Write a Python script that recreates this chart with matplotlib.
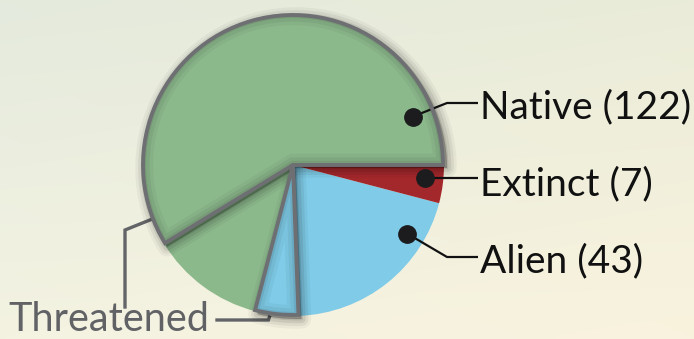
import numpy as np
import matplotlib.pyplot as plt
from matplotlib.patches import Wedge

plt.rcParams['font.family'] = ['Lato', 'DejaVu Sans']

# species counts
labels = ['Native', 'Extinct', 'Alien']
counts = [122, 7, 43]
threatened_native = 21
threatened_alien = 8

# slices, counter-clockwise from 3 o'clock:
# native (safe), native (threatened), alien (threatened), alien (rest), extinct
slice_sizes = [counts[0] - threatened_native, threatened_native,
               threatened_alien, counts[2] - threatened_alien, counts[1]]
slice_colors = ['#8cb98c', '#8cb98c', '#7fcbe8', '#7fcbe8', '#a3282b']
outlined = [True, False, True, False, False]
explode = [0, 0, 0.02, 0, 0]

W, H = 694, 339
cx, cy, R = 293, 174, 151
outline_col = '#6e6f72'

fig = plt.figure(figsize=(W / 100, H / 100), dpi=100)
ax = fig.add_axes([0, 0, 1, 1])

# soft background gradient
tl = np.array([228, 234, 221]) / 255
tr = np.array([234, 236, 217]) / 255
bl = np.array([244, 243, 226]) / 255
br = np.array([249, 243, 222]) / 255
yy, xx = np.mgrid[0:1:60j, 0:1:120j]
bg = ((1 - yy)[..., None] * ((1 - xx)[..., None] * tl + xx[..., None] * tr)
      + yy[..., None] * ((1 - xx)[..., None] * bl + xx[..., None] * br))
ax.imshow(bg, extent=(0, W, 0, H), origin='upper', aspect='auto',
          interpolation='bicubic', zorder=0)

wedges, _ = ax.pie(slice_sizes, colors=slice_colors, startangle=0,
                   counterclock=True, center=(cx, cy), radius=R,
                   explode=explode, wedgeprops=dict(linewidth=0))
for w in wedges:
    w.set_zorder(1)

for w, has_edge in zip(wedges, outlined):
    if not has_edge:
        continue
    x0, y0 = w.center
    # blurred drop shadow
    for lw, a in [(14, 0.04), (10, 0.06), (6, 0.08), (2, 0.1)]:
        ax.add_patch(Wedge((x0 + 3, y0 - 3), w.r, w.theta1, w.theta2,
                           facecolor=(0, 0, 0, a), edgecolor=(0, 0, 0, a),
                           linewidth=lw, joinstyle='round', zorder=2))
    w.set_zorder(3)
    # inner shading along the edge
    for lw, a in [(16, 0.04), (11, 0.05), (6, 0.07)]:
        s = Wedge((x0, y0), w.r, w.theta1, w.theta2, facecolor='none',
                  edgecolor=(0, 0, 0, a), linewidth=lw, zorder=3.5)
        ax.add_patch(s)
        s.set_clip_path(w)
    ax.add_patch(Wedge((x0, y0), w.r - 1, w.theta1, w.theta2,
                       facecolor='none', edgecolor=outline_col,
                       linewidth=2.8, joinstyle='miter', zorder=5))

# callouts: anchor angle / radius inside the slice, leader elbow
anchor_ang = [22, -5.6, -31]
anchor_r = [129, 133, 133]
line_y = [236, 161, 82]
base_y = [221, 144, 67]
elbow_x, end_x, text_x = 447, 478, 480

for lab, n, ang, r, ly, by in zip(labels, counts, anchor_ang, anchor_r,
                                  line_y, base_y):
    px = cx + r * np.cos(np.radians(ang))
    py = cy + r * np.sin(np.radians(ang))
    if abs(py - ly) > 2:
        xs, ys = [px, elbow_x, end_x], [py, ly, ly]
    else:
        xs, ys = [px, end_x], [ly, ly]
    ax.plot(xs, ys, color='#111111', lw=1.6, zorder=4,
            solid_capstyle='butt')
    ax.plot(px, py, 'o', color='#1c1c1e', ms=12.5, zorder=6)
    ax.text(text_x, by, f'{lab} ({n})', fontsize=28, color='#111111',
            ha='left', va='baseline', zorder=6)

# threatened bracket
t_start = np.radians(201)
t_end = np.radians(261)
sx, sy = cx + (R - 1) * np.cos(t_start), cy + (R - 1) * np.sin(t_start)
ex, ey = cx + R * np.cos(t_end), cy + R * np.sin(t_end) - 3
ax.plot([sx, 125, 125], [sy, 109, 32], color='#636467', lw=2.4, zorder=0.5,
        solid_joinstyle='miter')
ax.plot([217, ex - 1, ex], [19, 19, ey], color='#636467', lw=2.4, zorder=0.5,
        solid_joinstyle='miter')
ax.text(8, 8, 'Threatened', fontsize=28.5, color='#616265', ha='left',
        va='baseline', zorder=6)

ax.set_xlim(0, W)
ax.set_ylim(0, H)
ax.set_aspect('auto')
ax.axis('off')

fig.savefig('out.png', dpi=100)
